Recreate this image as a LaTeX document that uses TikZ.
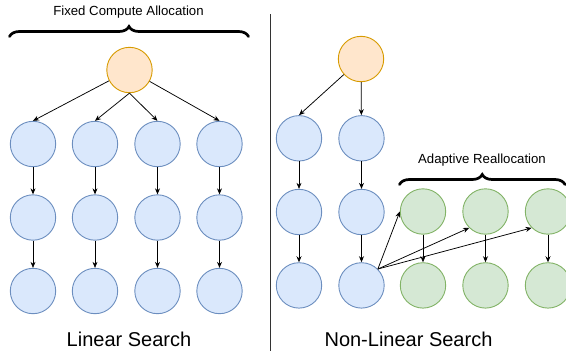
\documentclass[tikz,border=0pt]{standalone}
\usepackage{fontspec}
\setmainfont{Liberation Sans}
\usetikzlibrary{arrows.meta,decorations.pathreplacing}
\definecolor{bfill}{HTML}{DAE8FC}\definecolor{bline}{HTML}{6C8EBF}
\definecolor{ofill}{HTML}{FFE6CC}\definecolor{oline}{HTML}{D79B00}
\definecolor{gfill}{HTML}{D5E8D4}\definecolor{gline}{HTML}{82B366}
\tikzset{
  circ/.style={circle,minimum size=45.4pt,inner sep=0pt,line width=0.9pt},
  bnode/.style={circ,draw=bline,fill=bfill},
  onode/.style={circ,draw=oline,fill=ofill},
  gnode/.style={circ,draw=gline,fill=gfill},
  arr/.style={line width=0.75pt,-{Stealth[length=6pt,width=5pt]}},
  brc/.style={line width=2.7pt,line cap=round,decorate,decoration={brace,amplitude=10pt}},
  small/.style={font=\fontsize{13.2pt}{15pt}\selectfont,anchor=base,inner sep=0pt},
  big/.style={font=\fontsize{20pt}{24pt}\selectfont,anchor=base,inner sep=0pt}
}
\begin{document}
\begin{tikzpicture}[x=1pt,y=-1pt]
\useasboundingbox (0,0) rectangle (566,351);
% divider
\coordinate (dt) at (270.7,14);
\coordinate (db) at (270.7,351);
\draw[line width=1pt,black!80] (dt) -- (db);
% left panel
\node[onode] (LR) at (129.5,70) {};
\foreach \c/\x in {1/33,2/95,3/157.5,4/219.5}{
  \node[bnode] (L1\c) at (\x,144) {};
  \node[bnode] (L2\c) at (\x,217.5) {};
  \node[bnode] (L3\c) at (\x,291) {};
  \draw[arr] (L1\c) -- (L2\c);
  \draw[arr] (L2\c) -- (L3\c);
}
\draw[arr] (LR) -- (L11.north);
\draw[arr] (LR.south) -- (L12.north);
\draw[arr] (LR.south) -- (L13.north);
\draw[arr] (LR) -- (L14.north);
\coordinate (bl1) at (9.5,36.5);
\coordinate (bl2) at (248.5,36.5);
\draw[brc] (bl1) -- (bl2);
\node[small] (ft) at (128.5,15) {Fixed Compute Allocation};
\node[big] (lt) at (129,346.5) {Linear Search};
% right panel
\node[onode] (RR) at (361,59) {};
\foreach \c/\x in {1/299,2/361.5}{
  \node[bnode] (R1\c) at (\x,138.3) {};
  \node[bnode] (R2\c) at (\x,212) {};
  \node[bnode] (R3\c) at (\x,285.4) {};
  \draw[arr] (R1\c) -- (R2\c);
  \draw[arr] (R2\c) -- (R3\c);
}
\draw[arr] (RR) -- (R11.north);
\draw[arr] (RR) -- (R12);
\foreach \c/\x in {1/423,2/485.5,3/548}{
  \node[gnode] (G1\c) at (\x,211.5) {};
  \node[gnode] (G2\c) at (\x,285.4) {};
  \draw[arr] (G1\c) -- (G2\c);
}
\draw[arr] (R32.45) -- (G11.west);
\draw[arr] (R32.45) -- (G12.225);
\draw[arr] (R32.45) -- (G13.225);
\coordinate (br1) at (399.5,184.5);
\coordinate (br2) at (565,184.5);
\draw[brc] (br1) -- (br2);
\node[small] (at) at (482,163) {Adaptive Reallocation};
\node[big] (nt) at (408.5,346.5) {Non-Linear Search};
\end{tikzpicture}
\end{document}
